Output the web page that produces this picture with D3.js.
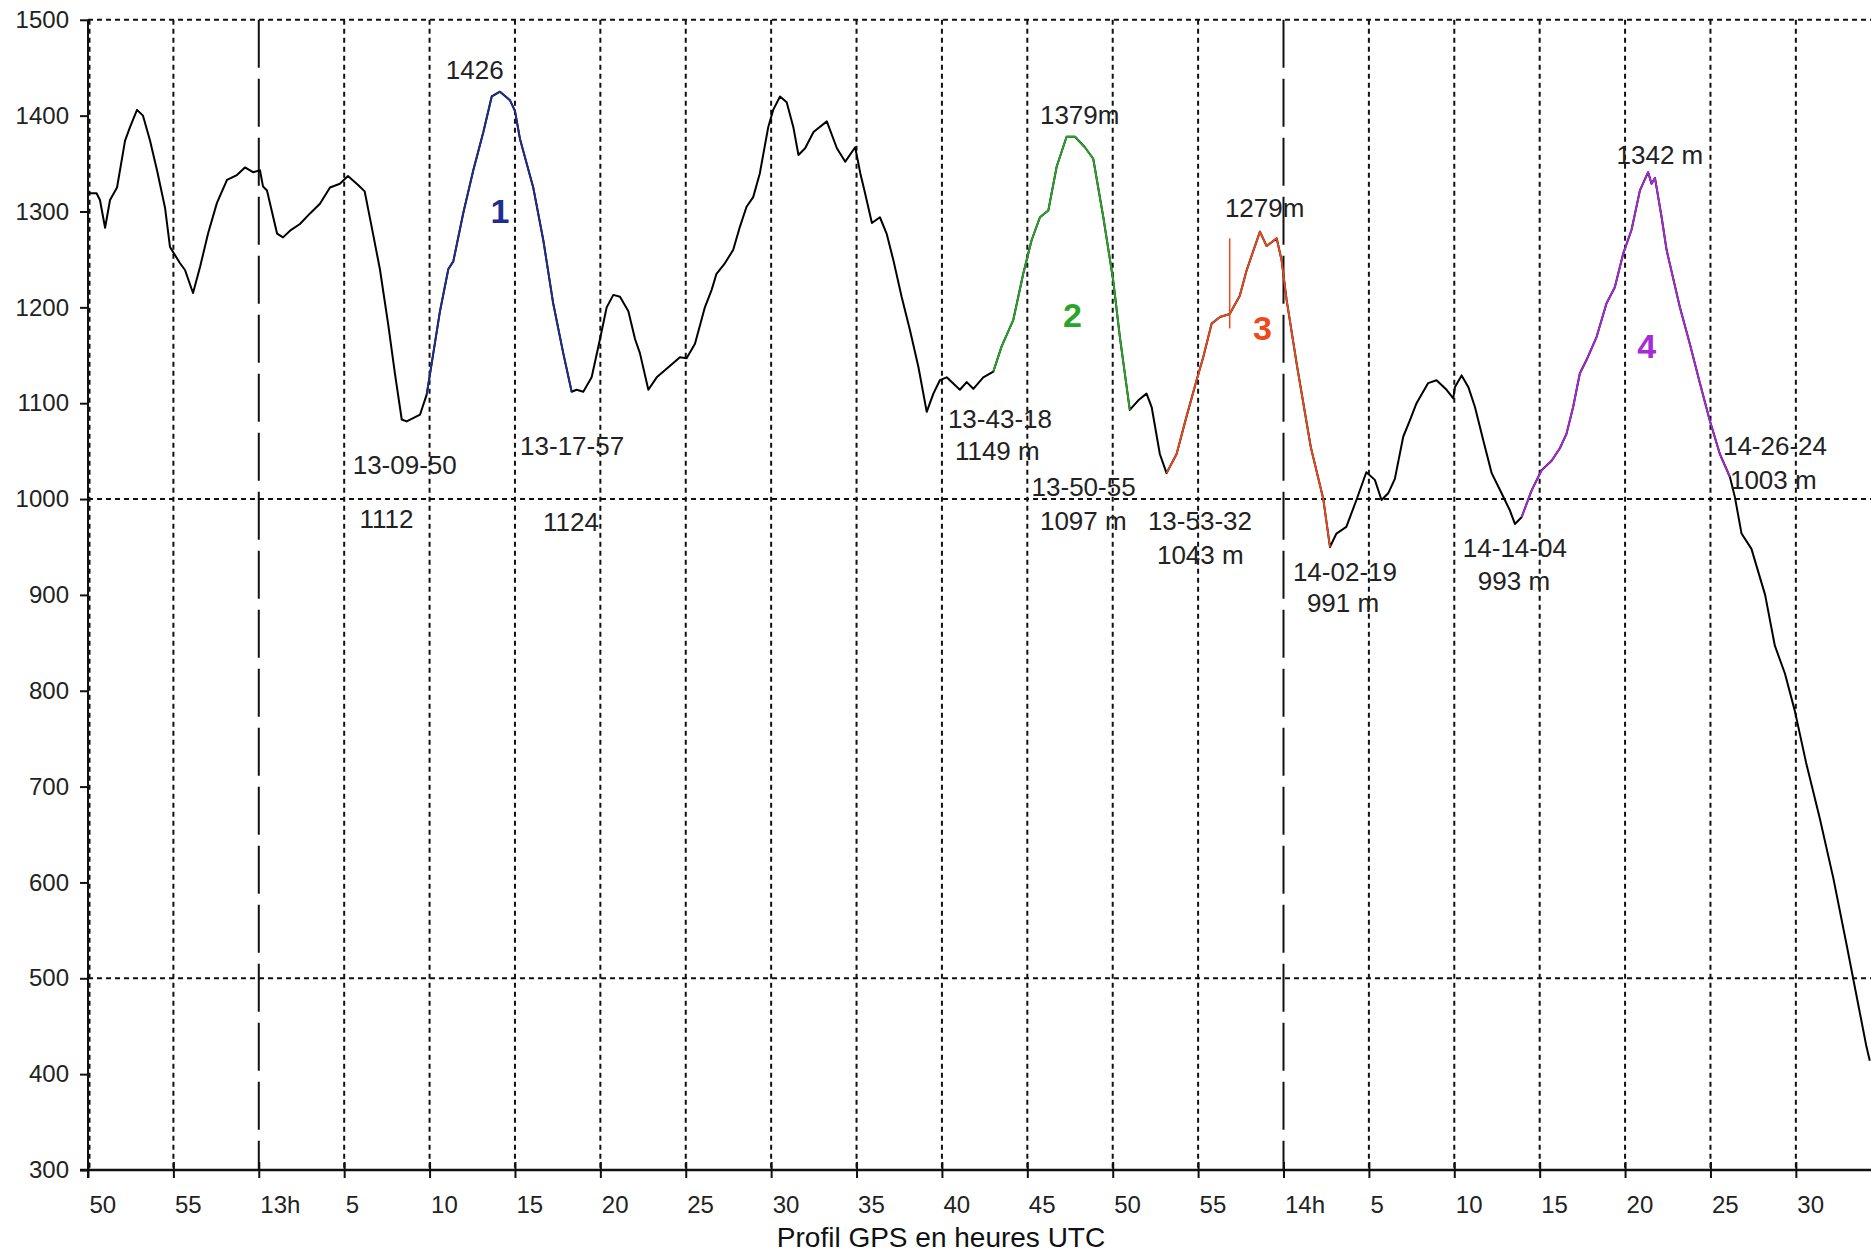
<!DOCTYPE html>
<html>
<head>
<meta charset="utf-8">
<script src="https://cdn.jsdelivr.net/npm/d3@7"></script>
<style>
  body { margin: 0; background: #fff; }
  svg { display: block; background: #fff; }
</style>
</head>
<body>
<svg id="chart"></svg>
<script>
// GPS track: minutes after 12:00 UTC and altitude (m)
const minutes = [
  50.00, 50.50, 50.70, 51.00, 51.29, 51.70, 52.17, 52.46, 52.87, 53.22,
  53.63, 54.04, 54.51, 54.80, 55.39, 55.68, 56.15, 56.56, 57.03, 57.55,
  58.14, 58.72, 59.19, 59.66, 60.07, 60.25, 60.48, 61.07, 61.42, 61.83,
  62.41, 63.00, 63.58, 64.17, 64.75, 65.22, 65.80, 66.20, 66.61, 67.09,
  67.58, 67.97, 68.37, 68.66, 69.44, 69.83, 70.12, 70.61, 71.10, 71.39,
  71.98, 72.56, 73.15, 73.64, 74.12, 74.71, 75.00, 75.29, 76.07, 76.66,
  77.24, 77.83, 78.32, 78.61, 79.00, 79.49, 79.98, 80.37, 80.76, 81.15,
  81.64, 82.03, 82.32, 82.81, 83.30, 83.88, 84.66, 85.05, 85.54, 86.12,
  86.51, 86.80, 87.29, 87.78, 88.17, 88.56, 88.95, 89.34, 89.83, 90.12,
  90.52, 90.91, 91.30, 91.60, 91.99, 92.48, 93.26, 93.85, 94.34, 94.92,
  95.22, 95.50, 95.90, 96.37, 96.76, 97.16, 97.64, 98.13, 98.62, 99.11,
  99.50, 99.88, 100.28, 101.05, 101.45, 101.84, 102.42, 103.01, 103.49, 104.18,
  104.76, 105.25, 105.74, 106.23, 106.72, 107.30, 107.79, 108.37, 108.86, 109.45,
  110.03, 110.42, 111.00, 111.50, 111.98, 112.28, 112.76, 113.15, 113.74, 114.32,
  114.91, 115.30, 115.79, 116.28, 116.85, 117.44, 117.83, 118.62, 119.01, 119.60,
  119.89, 120.18, 120.80, 121.60, 122.33, 122.72, 123.10, 123.68, 124.27, 124.85,
  125.35, 125.74, 126.13, 126.52, 127.01, 127.40, 127.79, 128.47, 128.96, 129.55,
  129.94, 130.04, 130.43, 130.82, 131.21, 131.70, 132.19, 132.77, 133.26, 133.55,
  133.94, 134.53, 135.11, 135.70, 136.18, 136.57, 136.96, 137.35, 137.74, 138.33,
  138.91, 139.40, 139.89, 140.38, 140.87, 141.35, 141.55, 141.75, 142.14, 142.43,
  143.21, 143.79, 144.38, 144.96, 145.55, 146.14, 146.43, 146.82, 147.40, 148.20,
  148.77, 149.36, 149.94, 150.60, 151.40, 152.20, 152.96, 153.55, 154.13, 154.33
];
const elevation = [
  1319, 1319, 1312, 1283, 1312, 1325, 1374, 1388, 1406, 1400,
  1374, 1343, 1304, 1263, 1246, 1239, 1215, 1242, 1277, 1309,
  1333, 1338, 1346, 1341, 1343, 1326, 1322, 1277, 1273, 1280,
  1287, 1298, 1308, 1325, 1329, 1337, 1328, 1321, 1284, 1240,
  1182, 1131, 1083, 1081, 1088, 1109, 1141, 1196, 1240, 1248,
  1299, 1343, 1383, 1420, 1425, 1416, 1405, 1376, 1325, 1270,
  1204, 1152, 1112, 1114, 1112, 1127, 1167, 1200, 1213, 1211,
  1196, 1167, 1152, 1114, 1127, 1136, 1148, 1147, 1162, 1200,
  1218, 1235, 1246, 1260, 1284, 1305, 1315, 1340, 1388, 1406,
  1420, 1414, 1388, 1359, 1366, 1383, 1394, 1366, 1352, 1367,
  1340, 1319, 1288, 1294, 1277, 1249, 1211, 1176, 1138, 1091,
  1110, 1124, 1127, 1114, 1122, 1115, 1127, 1133, 1159, 1187,
  1235, 1270, 1294, 1301, 1347, 1378, 1378, 1367, 1355, 1294,
  1228, 1169, 1093, 1103, 1110, 1096, 1047, 1027, 1047, 1086,
  1124, 1148, 1183, 1190, 1193, 1212, 1238, 1279, 1264, 1272,
  1249, 1208, 1138, 1054, 1000, 950, 964, 971, 999, 1028,
  1020, 999, 1006, 1021, 1065, 1082, 1100, 1121, 1124, 1114,
  1105, 1117, 1129, 1117, 1096, 1061, 1027, 1006, 988, 974,
  981, 1009, 1030, 1040, 1053, 1068, 1096, 1131, 1145, 1169,
  1204, 1221, 1256, 1281, 1322, 1341, 1329, 1335, 1294, 1260,
  1200, 1162, 1121, 1082, 1047, 1023, 1002, 964, 948, 900,
  847, 818, 779, 725, 667, 604, 536, 482, 429, 414
];

// highlighted climbs
const segName = ["1", "2", "3", "4"];
const segStart = [69.83, 103.01, 113.15, 133.94];
const segEnd = [78.32, 111.00, 122.72, 146.14];
const segColor = ["#1f2d8f", "#2aa52a", "#ec4a1c", "#a52ad8"];
const segLabelMinute = [74.12, 107.64, 118.77, 141.26];
const segLabelElev = [1288, 1180, 1166, 1147];

// annotations (left edge / baseline in chart units)
const noteText = [
  "1426", "13-09-50", "1112", "13-17-57", "1124",
  "1379m", "13-43-18", "1149 m", "13-50-55", "1097 m",
  "1279m", "13-53-32", "1043 m", "14-02-19", "991 m",
  "1342 m", "14-14-04", "993 m", "14-26-24", "1003 m"
];
const noteMinute = [
  70.95, 65.50, 65.90, 75.30, 76.64,
  105.74, 100.35, 100.76, 105.25, 105.74,
  116.57, 112.06, 112.59, 120.55, 121.37,
  139.50, 130.50, 131.38, 145.73, 146.14
];
const noteElev = [
  1438, 1026, 970, 1046, 967,
  1391, 1074, 1041, 1003, 968,
  1294, 968, 932, 915, 882,
  1350, 940, 905, 1046, 1011
];

const markerMinute = 116.85;
const markerElev = [1178, 1272];

const yTicks = [300, 400, 500, 600, 700, 800, 900, 1000, 1100, 1200, 1300, 1400, 1500];
const yGrid = [500, 1000, 1500];
const xTicks = [50, 55, 60, 65, 70, 75, 80, 85, 90, 95, 100, 105, 110, 115, 120, 125, 130, 135, 140, 145, 150];

const W = 1871, H = 1253;
const margin = {top: 19.8, right: 0, bottom: 83, left: 88};
const width = W - margin.left - margin.right;
const height = H - margin.top - margin.bottom;
const font = "Arial, 'Liberation Sans', sans-serif";

const svg = d3.select("#chart").attr("width", W).attr("height", H);
const g = svg.append("g").attr("transform", `translate(${margin.left},${margin.top})`);

const x = d3.scaleLinear().domain([50, 154.4]).range([0, width]);
const y = d3.scaleLinear().domain([300, 1500]).range([height, 0]);

// grid
g.selectAll("line.hgrid")
  .data(yGrid)
  .join("line")
    .attr("class", "hgrid")
    .attr("x1", 0).attr("x2", width)
    .attr("y1", d => y(d)).attr("y2", d => y(d))
    .attr("stroke", "#111").attr("stroke-width", 2)
    .attr("stroke-dasharray", "5,4");

g.selectAll("line.vgrid")
  .data(xTicks)
  .join("line")
    .attr("class", "vgrid")
    .attr("x1", d => x(d) + (d === 50 ? 1.5 : 0)).attr("x2", d => x(d) + (d === 50 ? 1.5 : 0))
    .attr("y1", 0).attr("y2", height)
    .attr("stroke", "#111").attr("stroke-width", 2)
    .attr("stroke-dasharray", d => d % 60 === 0 ? "48,11" : "5,4");

// axes
const yAxis = g.append("g")
  .call(d3.axisLeft(y).tickValues(yTicks).tickSize(8).tickPadding(11).tickFormat(d3.format("d")));
yAxis.select(".domain").remove();
yAxis.attr("font-size", 24).attr("font-family", font);
yAxis.selectAll(".tick line").attr("stroke", "#111").attr("stroke-width", 2);
yAxis.selectAll(".tick text").attr("fill", "#222");

const xAxis = g.append("g")
  .attr("transform", `translate(0,${height})`)
  .call(d3.axisBottom(x).tickValues(xTicks).tickSize(8)
    .tickFormat(m => m % 60 === 0 ? `${12 + m / 60}h` : m % 60));
xAxis.select(".domain").remove();
xAxis.attr("font-size", 24).attr("font-family", font);
xAxis.selectAll(".tick line").attr("y1", -8).attr("y2", 8).attr("stroke", "#111").attr("stroke-width", 2);
xAxis.selectAll(".tick text")
  .attr("x", 1).attr("y", 43).attr("dy", null)
  .attr("text-anchor", "start").attr("fill", "#222");

g.append("line")
  .attr("x1", 0).attr("x2", 0).attr("y1", 0).attr("y2", height + 8)
  .attr("stroke", "#111").attr("stroke-width", 2);
g.append("line")
  .attr("x1", -8).attr("x2", width).attr("y1", height).attr("y2", height)
  .attr("stroke", "#111").attr("stroke-width", 2.5);

// profile
const track = minutes.map((m, i) => ({m, e: elevation[i]}));
const line = d3.line().x(d => x(d.m)).y(d => y(d.e));

g.append("path")
  .datum(track)
  .attr("fill", "none")
  .attr("stroke", "#000")
  .attr("stroke-width", 2)
  .attr("stroke-linejoin", "round")
  .attr("d", line);

g.selectAll("path.seg")
  .data(segName)
  .join("path")
    .attr("class", "seg")
    .attr("fill", "none")
    .attr("stroke", (d, i) => segColor[i])
    .attr("stroke-width", 1.8)
    .attr("stroke-linejoin", "round")
    .attr("d", (d, i) => line(track.filter(p => p.m >= segStart[i] && p.m <= segEnd[i])));

g.append("line")
  .attr("x1", x(markerMinute)).attr("x2", x(markerMinute))
  .attr("y1", y(markerElev[0])).attr("y2", y(markerElev[1]))
  .attr("stroke", segColor[2]).attr("stroke-width", 1.5);

g.selectAll("text.seglabel")
  .data(segName)
  .join("text")
    .attr("class", "seglabel")
    .attr("x", (d, i) => x(segLabelMinute[i]))
    .attr("y", (d, i) => y(segLabelElev[i]))
    .attr("text-anchor", "middle")
    .attr("font-family", font)
    .attr("font-size", 34)
    .attr("font-weight", "bold")
    .attr("fill", (d, i) => segColor[i])
    .text(d => d);

g.selectAll("text.note")
  .data(noteText)
  .join("text")
    .attr("class", "note")
    .attr("x", (d, i) => x(noteMinute[i]))
    .attr("y", (d, i) => y(noteElev[i]))
    .attr("font-family", font)
    .attr("font-size", 26)
    .attr("fill", "#222")
    .text(d => d);

svg.append("text")
  .attr("x", 941).attr("y", 1247)
  .attr("text-anchor", "middle")
  .attr("font-family", font)
  .attr("font-size", 28)
  .attr("fill", "#111")
  .text("Profil GPS en heures UTC");
</script>
</body>
</html>
